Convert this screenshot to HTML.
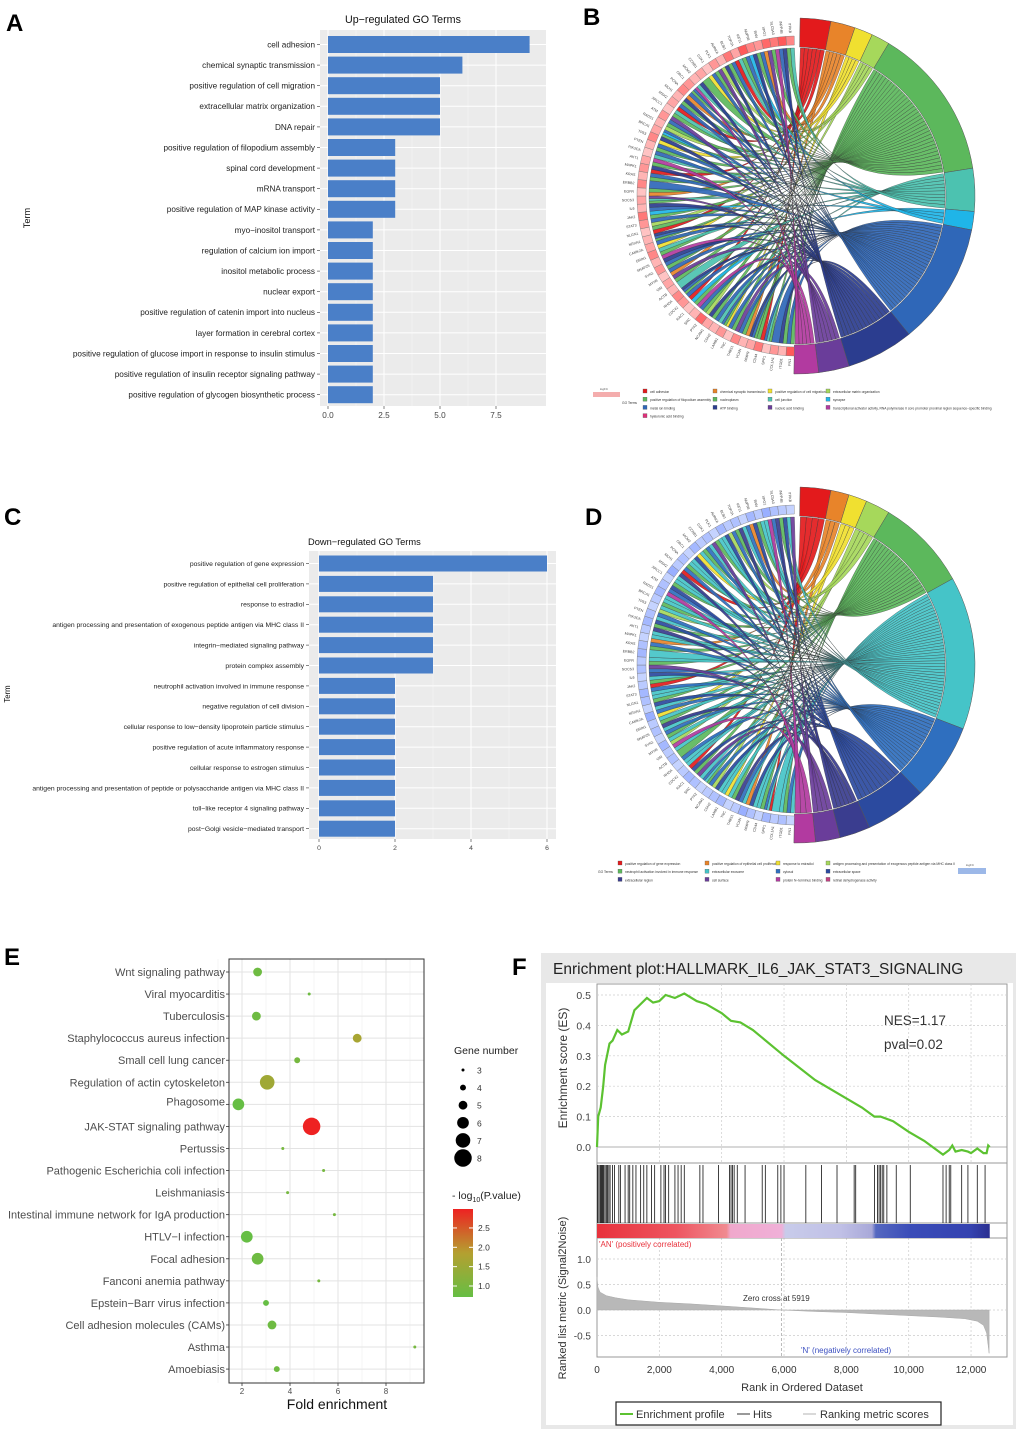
<!DOCTYPE html>
<html><head><meta charset="utf-8"><style>
html,body{margin:0;padding:0;background:#fff}
svg{display:block;font-family:"Liberation Sans",Arial,sans-serif}
</style></head><body>
<svg id="fig" width="1020" height="1432" viewBox="0 0 1020 1432" xmlns="http://www.w3.org/2000/svg">
<g font-weight="bold" font-size="24" fill="#000">
<text x="6" y="31">A</text>
<text x="583" y="25">B</text>
<text x="4" y="525">C</text>
<text x="585" y="525">D</text>
<text x="4" y="965">E</text>
<text x="512" y="975">F</text>
</g>
<g id="pA"></g>
<g id="pB"></g>
<g id="pC"></g>
<g id="pD"></g>
<g id="pE"></g>
<g id="pF"></g>
</svg>
<script>
// ---------- Panel A data ----------
const termsA = ["cell adhesion","chemical synaptic transmission","positive regulation of cell migration","extracellular matrix organization","DNA repair","positive regulation of filopodium assembly","spinal cord development","mRNA transport","positive regulation of MAP kinase activity","myo−inositol transport","regulation of calcium ion import","inositol metabolic process","nuclear export","positive regulation of catenin import into nucleus","layer formation in cerebral cortex","positive regulation of glucose import in response to insulin stimulus","positive regulation of insulin receptor signaling pathway","positive regulation of glycogen biosynthetic process"];
const countsA = [9,6,5,5,5,3,3,3,3,2,2,2,2,2,2,2,2,2];
const ticksA = [0,2.5,5,7.5];
const tickLabelsA = ["0.0","2.5","5.0","7.5"];
// ---------- Panel C data ----------
const termsC = ["positive regulation of gene expression","positive regulation of epithelial cell proliferation","response to estradiol","antigen processing and presentation of exogenous peptide antigen via MHC class II","integrin−mediated signaling pathway","protein complex assembly","neutrophil activation involved in immune response","negative regulation of cell division","cellular response to low−density lipoprotein particle stimulus","positive regulation of acute inflammatory response","cellular response to estrogen stimulus","antigen processing and presentation of peptide or polysaccharide antigen via MHC class II","toll−like receptor 4 signaling pathway","post−Golgi vesicle−mediated transport"];
const countsC = [6,3,3,3,3,3,2,2,2,2,2,2,2,2];
const ticksC = [0,2,4,6];
// ---------- Chord data ----------
const termColors = ["#e31a1c","#e8842a","#f0e030","#a6d85b","#5cb85c","#4cc2b0","#1fb5e8","#2f67b8","#2b3d8f","#6a3d9a","#b23aa0"];
const termSpanB = [10,8,6,6,50,14,6,40,22,10,8];
const geneTermsB = [[4,7],[4,8],[7],[4,5,7],[0,4],[4,7,8],[1,4],[7,9],[4,7],[2,4,7],[5,7],[4,8],[3,4],[7,10],[4,6],[0,7],[4,7,8],[5],[4,9],[1,7],[4,7],[8,10],[4,5],[2,7],[4,7,8],[0,4],[3,7],[4,6],[7,8],[4,5,9],[1,4],[7],[4,7],[0,8],[4,10],[5,7],[4,7],[2,8],[4,6,7],[3,4],[7,9],[4,5],[0,7],[4,8],[1,7],[4,7,10],[5,8],[4],[2,7],[4,9],[3,8],[4,7],[0,5],[4,7],[6,8],[4,7],[1,9],[4,10],[7,8],[4,5]];
const geneFCB = [0.9,0.3,0.5,0.2,0.7,0.4,0.3,0.6,0.2,0.5,0.3,0.4,0.8,0.3,0.2,0.5,0.6,0.3,0.4,0.2,0.5,0.3,0.6,0.4,0.3,0.2,0.5,0.7,0.3,0.4,0.2,0.6,0.3,0.5,0.4,0.2,0.3,0.6,0.4,0.3,0.5,0.2,0.4,0.3,0.6,0.5,0.3,0.4,0.2,0.5,0.3,0.7,0.4,0.9,0.6,0.5,0.8,0.7,0.9,0.6];
const termSpanD = [10,6,6,8,30,50,25,20,10,8,7];
const termColorsD = ["#e31a1c","#e8842a","#f0e030","#a6d85b","#5cb85c","#45c4c8","#2f6fbf","#2b4a9f","#3a3d8f","#6a3d9a","#b23aa0"];
const geneTermsD = [[5,6],[4,5],[5],[0,5,6],[4,5],[5,7],[1,5],[6,8],[4,5],[2,5],[5,7],[3,6],[4,5,6],[5,9],[4,7],[0,5],[5,6],[4],[5,10],[3,5],[4,6],[5,8],[4,5],[2,6],[5,7],[4,5],[5,6],[0,4],[5,7],[6,9],[4,5],[5],[4,6],[1,5],[5,8],[4,7],[5,6],[3,5],[4,5],[5,10],[6,7],[4,5],[5,8],[0,6],[4,5],[5,7],[2,5],[4,6],[5,9],[4,5],[5,7],[3,6],[4,8],[5,6],[1,7],[4,5],[5,10],[6,8],[4,7],[5,9]];
const geneFCD = [0.3,0.5,0.4,0.6,0.3,0.5,0.7,0.4,0.3,0.6,0.5,0.4,0.3,0.5,0.6,0.4,0.3,0.5,0.4,0.6,0.3,0.5,0.4,0.7,0.3,0.5,0.6,0.4,0.3,0.5,0.4,0.6,0.5,0.3,0.4,0.6,0.5,0.3,0.4,0.6,0.5,0.3,0.7,0.4,0.5,0.3,0.6,0.4,0.5,0.3,0.6,0.4,0.5,0.3,0.6,0.4,0.7,0.5,0.4,0.3];
const geneNames = ["FN1","ITGB1","COL1A1","SPP1","CD44","MMP9","VCAN","THBS1","TNC","LAMB1","CDH2","NCAM1","PTK2","SRC","RAC1","CDC42","RHOA","ACTB","VIM","MYH9","SYN1","SNAP25","GRIN1","CAMK2A","NRXN1","NLGN1","STAT3","JAK2","IL6","SOCS3","EGFR","ERBB2","KRAS","MAPK1","AKT1","PIK3CA","PTEN","TP53","BRCA1","RAD51","ATM","XRCC1","MSH2","MLH1","PCNA","ORC1","MCM2","CCNB1","CDK1","PLK1","AURKA","BUB1","TOP2A","KIF11","NUP98","RAN","XPO1","SLC5A3","INPP4B","ITPKB"];
// ---------- Panel E data ----------
const pathwaysE = ["Wnt signaling pathway","Viral myocarditis","Tuberculosis","Staphylococcus aureus infection","Small cell lung cancer","Regulation of actin cytoskeleton","Phagosome","JAK-STAT signaling pathway","Pertussis","Pathogenic Escherichia coli infection","Leishmaniasis","Intestinal immune network for IgA production","HTLV−I infection","Focal adhesion","Fanconi anemia pathway","Epstein−Barr virus infection","Cell adhesion molecules (CAMs)","Asthma","Amoebiasis"];
const foldE = [2.65,4.8,2.6,6.8,4.3,3.05,1.85,4.9,3.7,5.4,3.9,5.85,2.2,2.65,5.2,3.0,3.25,9.2,3.45];
const geneNumE = [5,3,5,5,4,7,6,8,3,3,3,3,6,6,3,4,5,3,4];
const logPE = [1.1,1.1,1.1,1.8,1.2,1.7,1.0,2.9,1.2,1.2,1.2,1.2,1.0,1.1,1.2,1.0,1.1,1.2,1.1];
const ticksE = [2,4,6,8];
const sizeLegendE = [3,4,5,6,7,8];
const colorTicksE = [1.0,1.5,2.0,2.5];
// ---------- Panel F data ----------
const esRank = [0,40,120,200,260,320,400,500,650,800,1000,1200,1400,1600,1800,2000,2200,2500,2800,3200,3500,4000,4300,4600,5000,6000,7000,8000,8500,8900,9100,9500,10000,10500,11100,11300,11400,11500,11700,11900,12000,12200,12400,12500,12550,12600];
const esVal = [0,0.1,0.13,0.2,0.27,0.3,0.34,0.35,0.385,0.37,0.38,0.45,0.47,0.49,0.475,0.48,0.5,0.49,0.505,0.48,0.47,0.44,0.415,0.41,0.385,0.3,0.22,0.16,0.13,0.1,0.1,0.085,0.05,0.02,-0.025,-0.01,0.005,-0.015,-0.01,-0.015,-0.02,-0.005,-0.02,-0.02,0.005,0.0];
const hitRanks = [20,60,100,130,160,190,220,260,300,340,380,420,500,560,700,750,900,1000,1050,1150,1250,1400,1500,1600,1750,1850,2050,2150,2200,2300,2500,2600,2700,2800,3300,3400,3900,4250,4300,4350,4400,4500,4750,5300,5400,5800,5900,6000,6700,7200,7700,8250,8300,8900,9000,9050,9100,9150,9200,9300,9600,10050,11100,11200,11300,11350,11700,11900,12200,12450];
const metricRank = [0,30,100,300,600,1000,2000,3000,4000,5000,5919,7000,8000,9000,10000,11000,11800,12200,12400,12500,12550,12580];
const metricVal = [0.65,0.45,0.35,0.28,0.24,0.2,0.15,0.12,0.08,0.04,0,-0.03,-0.05,-0.08,-0.11,-0.14,-0.17,-0.22,-0.3,-0.45,-0.7,-0.85];
const ticksFx = [0,2000,4000,6000,8000,10000,12000];
const ticksFes = [0,0.1,0.2,0.3,0.4,0.5];
const ticksFm = [-0.5,0,0.5,1.0];

const NS="http://www.w3.org/2000/svg";
function mk(parent,tag,attrs,txt){const e=document.createElementNS(NS,tag);for(const k in attrs)e.setAttribute(k,attrs[k]);if(txt!==undefined)e.textContent=txt;parent.appendChild(e);return e;}

// ---------- bar chart builder ----------
function barChart(g,o){
  mk(g,'rect',{x:o.px,y:o.py,width:o.pw,height:o.ph,fill:'#ebebeb'});
  const xs=v=>o.x0+v*o.k;
  o.ticks.forEach((t,i)=>{mk(g,'line',{x1:xs(t),x2:xs(t),y1:o.py,y2:o.py+o.ph,stroke:'#fff','stroke-width':1});
    if(i<o.ticks.length-1 || true){}});
  for(let i=0;i<o.ticks.length-1;i++){const m=(o.ticks[i]+o.ticks[i+1])/2;mk(g,'line',{x1:xs(m),x2:xs(m),y1:o.py,y2:o.py+o.ph,stroke:'#f5f5f5','stroke-width':0.5});}
  const n=o.terms.length;
  o.terms.forEach((t,i)=>{
    const y=o.y0+i*o.dy;
    mk(g,'line',{x1:o.px,x2:o.px+o.pw,y1:y,y2:y,stroke:'#fff','stroke-width':1});
    const b=mk(g,'rect',{x:xs(0),y:y-o.bh/2,width:o.counts[i]*o.k,height:o.bh,fill:'#4a7fc8'});
    
    
    mk(g,'line',{x1:o.px-3,x2:o.px,y1:y,y2:y,stroke:'#333','stroke-width':0.6});
    const l=mk(g,'text',{x:o.px-5,y:y+o.fs*0.35,'font-size':o.fs,fill:'#222','text-anchor':'end'},t);
    
    
  });
  o.ticks.forEach((t,i)=>{mk(g,'line',{x1:xs(t),x2:xs(t),y1:o.py+o.ph,y2:o.py+o.ph+3,stroke:'#333','stroke-width':0.6});
    mk(g,'text',{x:xs(t),y:o.py+o.ph+o.fs+4,'font-size':o.fs,fill:'#444','text-anchor':'middle'},o.tl?o.tl[i]:String(t));});
  const tt=mk(g,'text',{x:o.tx,y:o.ty,'font-size':o.fs+2.5,fill:'#111'},o.title);
  
  
  const yl=mk(g,'text',{x:0,y:0,'font-size':o.fs+1,fill:'#111','text-anchor':'middle',transform:`translate(${o.ylx},${o.yly}) rotate(-90)`},'Term');
  
  
}
barChart(document.getElementById('pA'),{terms:termsA,counts:countsA,ticks:ticksA,tl:tickLabelsA,px:320,py:30,pw:226,ph:376,x0:328,k:22.4,y0:44.5,dy:20.6,bh:17,fs:8.2,title:'Up−regulated GO Terms',tx:345,ty:23,ylx:30,yly:218});
barChart(document.getElementById('pC'),{terms:termsC,counts:countsC,ticks:ticksC,px:309,py:551,pw:247,ph:288,x0:319,k:38,y0:563.5,dy:20.4,bh:16,fs:6.8,title:'Down−regulated GO Terms',tx:308,ty:545,ylx:10,yly:694});

// ---------- chord builder ----------
function chord(g,o){
  const cx=o.cx,cy=o.cy,R=o.r;
  const P=(a,r)=>[cx+r*Math.sin(a),cy-r*Math.cos(a)];
  const d2r=Math.PI/180;
  // term angles
  const tStart=[];let acc=1;
  o.spans.forEach(s=>{tStart.push(acc);acc+=s;});
  const nG=o.genes.length, gA0=181, gSpan=178, gW=gSpan/nG;
  // count links per term
  const tCount=o.spans.map(()=>0);o.genes.forEach(ts=>ts.forEach(t=>tCount[t]++));
  const tUsed=o.spans.map(()=>0);
  const ribbons=[];
  o.genes.forEach((ts,gi)=>{
    const ga=gA0+gi*gW;
    ts.forEach((t,k)=>{
      const a1=(ga+ k*gW/ts.length)*d2r, a2=(ga+(k+1)*gW/ts.length)*d2r;
      const sw=(o.spans[t]-0.6)/tCount[t];
      const b1=(tStart[t]+0.3+tUsed[t]*sw)*d2r, b2=(tStart[t]+0.3+(tUsed[t]+1)*sw)*d2r;
      tUsed[t]++;
      ribbons.push({a1,a2,b1,b2,t});
    });
  });
  ribbons.forEach(r=>{
    const p1=P(r.a1,R),p2=P(r.a2,R),q1=P(r.b2,R),q2=P(r.b1,R);
    const d=`M${p1} A${R},${R} 0 0 1 ${p2} Q${cx},${cy} ${q1} A${R},${R} 0 0 0 ${q2} Q${cx},${cy} ${p1}Z`;
    const e=mk(g,'path',{d:d.replace(/,/g,' ').replace(/(\d) (\d)/g,'$1 $2'),fill:o.colors[r.t],'fill-opacity':0.92,stroke:'#333','stroke-width':0.3});
    
    
  });
  // term ring
  o.spans.forEach((s,i)=>{
    const a=tStart[i]*d2r,b=(tStart[i]+s)*d2r,r1=R+1,r2=R+o.tw;
    const A=P(a,r1),B=P(b,r1),C=P(b,r2),D=P(a,r2),lg=s>180?1:0;
    const e=mk(g,'path',{d:`M${A[0]} ${A[1]} A${r1} ${r1} 0 ${lg} 1 ${B[0]} ${B[1]} L${C[0]} ${C[1]} A${r2} ${r2} 0 ${lg} 0 ${D[0]} ${D[1]}Z`,fill:o.colors[i],stroke:'#555','stroke-width':0.5});
    
    
  });
  // gene ring
  o.genes.forEach((ts,gi)=>{
    const a=(gA0+gi*gW)*d2r,b=(gA0+(gi+1)*gW)*d2r,r1=R+3,r2=R+12;
    const A=P(a,r1),B=P(b,r1),C=P(b,r2),D=P(a,r2);
    const v=o.fc[gi];
    const col=o.blue?`rgb(${Math.round(230-110*v)},${Math.round(238-90*v)},255)`:`rgb(255,${Math.round(225-150*v)},${Math.round(225-150*v)})`;
    const e=mk(g,'path',{d:`M${A[0]} ${A[1]} A${r1} ${r1} 0 0 1 ${B[0]} ${B[1]} L${C[0]} ${C[1]} A${r2} ${r2} 0 0 0 ${D[0]} ${D[1]}Z`,fill:col,stroke:'#777','stroke-width':0.4});
    
    
    const mid=(gA0+(gi+0.5)*gW), L=P(mid*d2r,R+15);
    const rot=mid-90+180;
    const t=mk(g,'text',{x:L[0],y:L[1]+1,'font-size':3.6,fill:'#444','text-anchor':'end',transform:`rotate(${rot} ${L[0]} ${L[1]})`},geneNames[gi]);
    
    
  });
}
chord(document.getElementById('pB'),{cx:797,cy:196,r:148,tw:30,spans:termSpanB,genes:geneTermsB,colors:termColors,fc:geneFCB,blue:false});
chord(document.getElementById('pD'),{cx:797,cy:665,r:148,tw:30,spans:termSpanD,genes:geneTermsD,colors:termColorsD,fc:geneFCD,blue:true});

// chord legends
const legB=["cell adhesion","chemical synaptic transmission","positive regulation of cell migration","extracellular matrix organization","positive regulation of filopodium assembly","nucleoplasm","cell junction","synapse","metal ion binding","ATP binding","nucleic acid binding","transcriptional activator activity, RNA polymerase II core promoter proximal region sequence−specific binding","hyaluronic acid binding"];
const legBcol=["#e31a1c","#e8842a","#f0e030","#a6d85b","#5cb85c","#5cb85c","#4cc2b0","#1fb5e8","#2f67b8","#2b3d8f","#6a3d9a","#b23aa0","#e0307a"];
const legD=["positive regulation of gene expression","positive regulation of epithelial cell proliferation","response to estradiol","antigen processing and presentation of exogenous peptide antigen via MHC class II","neutrophil activation involved in immune response","extracellular exosome","cytosol","extracellular space","extracellular region","cell surface","protein N−terminus binding","retinal dehydrogenase activity"];
const legDcol=["#e31a1c","#e8842a","#f0e030","#a6d85b","#5cb85c","#45c4c8","#2f6fbf","#2b4a9f","#3a3d8f","#6a3d9a","#b23aa0","#c04080"];
function chordLegend(g,names,cols,x0,y0,colsX,dy){
  names.forEach((n,i)=>{
    const c=i%4,r=Math.floor(i/4);const x=colsX[c],y=y0+r*dy;
    mk(g,'rect',{x:x,y:y-3,width:4,height:4,fill:cols[i],stroke:'#555','stroke-width':0.3});
    mk(g,'text',{x:x+7,y:y+1,'font-size':3.3,fill:'#333'},n);
  });
}
const gB=document.getElementById('pB'),gD=document.getElementById('pD');
chordLegend(gB,legB,legBcol,0,392,[643,713,768,826],8.2);
const gradB=mk(gB,'rect',{x:593,y:392,width:27,height:5,fill:'#f08a8a','fill-opacity':0.7});
mk(gB,'text',{x:600,y:390,'font-size':3,fill:'#555'},'logFC');
mk(gB,'text',{x:622,y:404,'font-size':3.3,fill:'#333'},'GO Terms');
chordLegend(gD,legD,legDcol,0,864,[618,705,776,826],8.2);
mk(gD,'text',{x:598,y:873,'font-size':3.3,fill:'#333'},'GO Terms');
mk(gD,'rect',{x:958,y:868,width:28,height:6,fill:'#9cb8e8'});
mk(gD,'text',{x:966,y:866,'font-size':3,fill:'#555'},'logFC');

// ---------- Panel E ----------
(function(){
  const g=document.getElementById('pE');
  const px=229,py=959,pw=195,ph=424;
  const xs=f=>242+(f-2)*24, ys=i=>972+i*22.06;
  const rs=n=>1.5+(n-3)*1.45;
  function col(v){const t=Math.max(0,Math.min(1,(v-1)/1.9));
    const c1=[102,190,68],c2=[180,160,48],c3=[238,34,34];
    let a,b,u; if(t<0.5){a=c1;b=c2;u=t/0.5;}else{a=c2;b=c3;u=(t-0.5)/0.5;}
    return `rgb(${a.map((x,k)=>Math.round(x+(b[k]-x)*u)).join(',')})`;}
  mk(g,'rect',{x:px,y:py,width:pw,height:ph,fill:'#fff',stroke:'#333','stroke-width':1});
  for(let f=1;f<=9;f++){mk(g,'line',{x1:xs(f),x2:xs(f),y1:py,y2:py+ph,stroke:f%2===0?'#e3e3e3':'#f0f0f0','stroke-width':f%2===0?1:0.6});}
  pathwaysE.forEach((p,i)=>{
    const y=ys(i);
    mk(g,'line',{x1:px,x2:px+pw,y1:y,y2:y,stroke:'#e3e3e3','stroke-width':1});
    mk(g,'line',{x1:px-3,x2:px,y1:y,y2:y,stroke:'#333','stroke-width':0.8});
    const ly = (i===6)? y-3 : y;
    const t=mk(g,'text',{x:px-4,y:ly+4,'font-size':11,fill:'#4d4d4d','text-anchor':'end'},p);
    
    
  });
  pathwaysE.forEach((p,i)=>{
    const c=mk(g,'circle',{cx:xs(foldE[i]),cy:ys(i),r:rs(geneNumE[i]),fill:col(logPE[i])});
    
    
  });
  mk(g,'rect',{x:px,y:py,width:pw,height:ph,fill:'none',stroke:'#333','stroke-width':1});
  ticksE.forEach(t=>{mk(g,'line',{x1:xs(t),x2:xs(t),y1:py+ph,y2:py+ph+3,stroke:'#333','stroke-width':0.8});
    mk(g,'text',{x:xs(t),y:py+ph+11,'font-size':8,fill:'#4d4d4d','text-anchor':'middle'},String(t));});
  const xt=mk(g,'text',{x:337,y:1409,'font-size':14,fill:'#111','text-anchor':'middle'},'Fold enrichment');
  
  
  mk(g,'text',{x:454,y:1054,'font-size':10.5,fill:'#222'},'Gene number');
  sizeLegendE.forEach((n,i)=>{const y=1070+i*17.6;
    mk(g,'circle',{cx:463,cy:y,r:rs(n),fill:'#000'});
    mk(g,'text',{x:477,y:y+3.5,'font-size':8.5,fill:'#333'},String(n));});
  const lt=mk(g,'text',{x:452,y:1199,'font-size':10.5,fill:'#222'});
  lt.innerHTML='- log<tspan font-size="7" dy="3">10</tspan><tspan dy="-3">(P.value)</tspan>';
  const defs=mk(g,'defs',{});
  const lg=mk(defs,'linearGradient',{id:'gE',x1:0,y1:1,x2:0,y2:0});
  [[0,col(1.0)],[0.5,col(1.95)],[1,col(2.9)]].forEach(s=>mk(lg,'stop',{offset:s[0],'stop-color':s[1]}));
  mk(g,'rect',{x:453,y:1209,width:20,height:88,fill:'url(#gE)'});
  const cy=v=>1286-(v-1)*38.7;
  colorTicksE.forEach(v=>{mk(g,'line',{x1:453,x2:457,y1:cy(v),y2:cy(v),stroke:'#fff'});mk(g,'line',{x1:469,x2:473,y1:cy(v),y2:cy(v),stroke:'#fff'});
    mk(g,'text',{x:478,y:cy(v)+3,'font-size':8.5,fill:'#333'},v.toFixed(1));});
})();

// ---------- Panel F ----------
(function(){
  const g=document.getElementById('pF');
  mk(g,'rect',{x:541,y:953,width:475,height:476,fill:'#e8e8e8'});
  mk(g,'rect',{x:546,y:983,width:467,height:442,fill:'#fff'});
  const L=597,R=1007,xs=r=>597+r*0.03117;
  const esY=v=>1147-v*304, mY=v=>1310-v*51;
  const T1=984,T2=1163,H2=1223,C2=1238,B2=1357;
  mk(g,'rect',{x:L,y:T1,width:R-L,height:B2-T1,fill:'#fff',stroke:'#999','stroke-width':1});
  const tt=mk(g,'text',{x:553,y:974,'font-size':15.5,fill:'#222'},'Enrichment plot:HALLMARK_IL6_JAK_STAT3_SIGNALING');
  
  
  // grids
  ticksFx.forEach(t=>{if(t>0)mk(g,'line',{x1:xs(t),x2:xs(t),y1:T1,y2:T2,stroke:'#ccc','stroke-dasharray':'2,2','stroke-width':0.7});
    if(t>0)mk(g,'line',{x1:xs(t),x2:xs(t),y1:C2,y2:B2,stroke:'#ccc','stroke-dasharray':'2,2','stroke-width':0.7});
    mk(g,'text',{x:xs(t),y:1373,'font-size':10,fill:'#333','text-anchor':'middle'},t===0?'0':t.toLocaleString('en-US'));});
  ticksFes.forEach(v=>{mk(g,'line',{x1:L,x2:R,y1:esY(v),y2:esY(v),stroke:v===0?'#999':'#ccc','stroke-dasharray':v===0?'':'2,2','stroke-width':0.7});
    mk(g,'text',{x:591,y:esY(v)+4,'font-size':10.5,fill:'#444','text-anchor':'end'},v.toFixed(1));});
  ticksFm.forEach(v=>{mk(g,'line',{x1:L,x2:R,y1:mY(v),y2:mY(v),stroke:'#ccc','stroke-dasharray':'2,2','stroke-width':0.7});
    mk(g,'text',{x:591,y:mY(v)+4,'font-size':10,fill:'#444','text-anchor':'end'},v.toFixed(1));});
  mk(g,'line',{x1:L,x2:R,y1:T2,y2:T2,stroke:'#999'});
  mk(g,'line',{x1:L,x2:R,y1:H2,y2:H2,stroke:'#999'});
  mk(g,'line',{x1:L,x2:R,y1:C2,y2:C2,stroke:'#999'});
  // ES line
  const pts=esRank.map((r,i)=>`${xs(r).toFixed(1)},${esY(esVal[i]).toFixed(1)}`).join(' ');
  const es=mk(g,'polyline',{points:pts,fill:'none',stroke:'#5cc231','stroke-width':2.2});
  
  
  // hits
  hitRanks.forEach(r=>{const h=mk(g,'line',{x1:xs(r),x2:xs(r),y1:T2+2,y2:H2,stroke:'#111','stroke-width':0.8});
    
    });
  // colorbar
  const defs=mk(g,'defs',{});
  const lg=mk(defs,'linearGradient',{id:'gF',x1:0,y1:0,x2:1,y2:0});
  [[0,'#e8323c'],[0.2,'#ee5560'],[0.33,'#f08a90'],[0.34,'#f0a8cc'],[0.47,'#f0b0d8'],[0.48,'#c8cbea'],[0.62,'#c0c0e6'],[0.7,'#a8a8d8'],[0.71,'#5568c0'],[0.8,'#3a4cb8'],[0.95,'#3543b0'],[1,'#2a2f90']].forEach(s=>mk(lg,'stop',{offset:s[0],'stop-color':s[1]}));
  mk(g,'rect',{x:xs(0),y:H2+1,width:xs(12600)-xs(0),height:C2-H2-1,fill:'url(#gF)'});
  mk(g,'text',{x:599,y:1247,'font-size':8,fill:'#e8323c'},"'AN' (positively correlated)");
  mk(g,'text',{x:801,y:1353,'font-size':8,fill:'#3b4fc0'},"'N' (negatively correlated)");
  // metric area
  let d=`M${xs(0)},${mY(0)} `+metricRank.map((r,i)=>`L${xs(r).toFixed(1)},${mY(metricVal[i]).toFixed(1)}`).join(' ')+` L${xs(metricRank[metricRank.length-1])},${mY(0)}Z`;
  const ar=mk(g,'path',{d:d,fill:'#b8b8b8',stroke:'#aaa','stroke-width':0.5});
  
  
  mk(g,'line',{x1:xs(5919),x2:xs(5919),y1:C2,y2:B2,stroke:'#bbb','stroke-dasharray':'3,2'});
  mk(g,'text',{x:743,y:1301,'font-size':8,fill:'#333'},'Zero cross at 5919');
  mk(g,'text',{x:884,y:1025,'font-size':13.5,fill:'#333'},'NES=1.17');
  mk(g,'text',{x:884,y:1049,'font-size':13.5,fill:'#333'},'pval=0.02');
  mk(g,'text',{x:0,y:0,'font-size':12,fill:'#333','text-anchor':'middle',transform:'translate(567,1068) rotate(-90)'},'Enrichment score (ES)');
  mk(g,'text',{x:0,y:0,'font-size':11,fill:'#333','text-anchor':'middle',transform:'translate(566,1298) rotate(-90)'},'Ranked list metric (Signal2Noise)');
  mk(g,'text',{x:802,y:1391,'font-size':11,fill:'#333','text-anchor':'middle'},'Rank in Ordered Dataset');
  // legend
  const lgG=mk(g,'g',{});
  
  
  mk(lgG,'rect',{x:616,y:1402,width:325,height:23,fill:'#fff',stroke:'#222','stroke-width':1.2});
  mk(lgG,'line',{x1:620,x2:633,y1:1414,y2:1414,stroke:'#5cc231','stroke-width':2});
  mk(lgG,'text',{x:636,y:1418,'font-size':11,fill:'#333'},'Enrichment profile');
  mk(lgG,'line',{x1:737,x2:750,y1:1414,y2:1414,stroke:'#555','stroke-width':1.2});
  mk(lgG,'text',{x:753,y:1418,'font-size':11,fill:'#333'},'Hits');
  mk(lgG,'line',{x1:803,x2:816,y1:1414,y2:1414,stroke:'#ccc','stroke-width':1.5});
  mk(lgG,'text',{x:820,y:1418,'font-size':11,fill:'#333'},'Ranking metric scores');
})();
</script>
</body></html>
